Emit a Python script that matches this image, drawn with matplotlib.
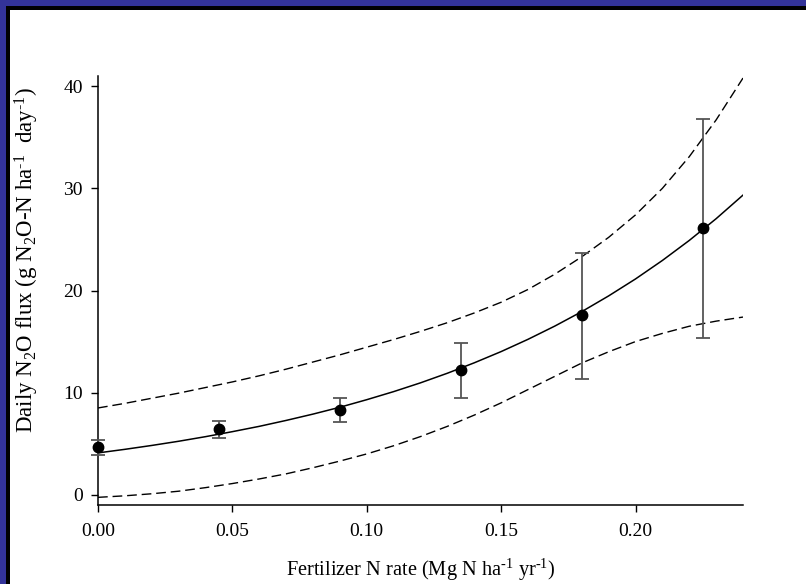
import matplotlib
matplotlib.use("Agg")

import numpy as np
import matplotlib.pyplot as plt
from matplotlib.patches import Rectangle

# -----------------------------
# DANE
# -----------------------------

n_rate = [0.0, 0.045, 0.09, 0.135, 0.18, 0.225]
flux = [4.68, 6.44, 8.33, 12.23, 17.6, 26.15]
err_low = [3.90, 5.53, 7.09, 9.43, 11.36, 15.36]
err_high = [5.34, 7.19, 9.46, 14.87, 23.7, 36.8]

# krzywa dopasowania i pasma ufności (odczytane co 0.01)
curve_x = [0.00, 0.01, 0.02, 0.03, 0.04, 0.05, 0.06, 0.07, 0.08, 0.09, 0.10, 0.11,
           0.12, 0.13, 0.14, 0.15, 0.16, 0.17, 0.18, 0.19, 0.20, 0.21, 0.22, 0.23, 0.24]
fit_y = [4.10, 4.45, 4.83, 5.24, 5.69, 6.18, 6.70, 7.28, 7.90, 8.57, 9.31, 10.10,
         10.96, 11.90, 12.92, 14.02, 15.22, 16.52, 17.93, 19.47, 21.13, 22.94, 24.90, 27.03, 29.34]
band_upper = [8.5, 8.95, 9.45, 9.95, 10.5, 11.05, 11.65, 12.3, 13.0, 13.7, 14.45, 15.2,
              16.0, 16.85, 17.8, 18.85, 20.1, 21.6, 23.3, 25.2, 27.4, 30.0, 33.1, 36.7, 40.8]
band_lower = [-0.25, -0.1, 0.1, 0.35, 0.7, 1.1, 1.55, 2.05, 2.65, 3.3, 4.0, 4.8,
              5.7, 6.7, 7.8, 9.0, 10.3, 11.6, 12.9, 14.0, 15.0, 15.8, 16.5, 17.0, 17.4]

x_ticks = [0.00, 0.05, 0.10, 0.15, 0.20]
y_ticks = [0, 10, 20, 30, 40]

# -----------------------------
# WYKRES
# -----------------------------

plt.rcParams["font.family"] = ["Liberation Serif", "DejaVu Serif"]
plt.rcParams["mathtext.fontset"] = "custom"
plt.rcParams["mathtext.rm"] = "Liberation Serif"
plt.rcParams["mathtext.it"] = "Liberation Serif:italic"
plt.rcParams["mathtext.default"] = "regular"

fig = plt.figure(figsize=(8.06, 5.84), dpi=100, facecolor="white")

# ramka
W, H = 806, 584
fig.patches.append(Rectangle((0, (H - 6) / H), 1, 6 / H, transform=fig.transFigure,
                             facecolor="#333399", edgecolor="none", zorder=-5))
fig.patches.append(Rectangle((0, 0), 6 / W, 1, transform=fig.transFigure,
                             facecolor="#333399", edgecolor="none", zorder=-5))
fig.patches.append(Rectangle((6 / W, (H - 10) / H), 1, 4 / H, transform=fig.transFigure,
                             facecolor="black", edgecolor="none", zorder=-5))
fig.patches.append(Rectangle((6 / W, 0), 4 / W, (H - 6) / H, transform=fig.transFigure,
                             facecolor="black", edgecolor="none", zorder=-5))

ax = fig.add_axes([98 / W, (H - 505) / H, (743 - 98) / W, (505 - 76) / H])
ax.set_facecolor("none")

ax.plot(curve_x, fit_y, color="black", lw=1.1, zorder=3)
ax.plot(curve_x, band_upper, color="black", lw=1.0, dashes=(7, 3.5), zorder=3)
ax.plot(curve_x, band_lower, color="black", lw=1.0, dashes=(7, 3.5), zorder=3)

yerr = [np.array(flux) - np.array(err_low), np.array(err_high) - np.array(flux)]
ax.errorbar(n_rate, flux, yerr=yerr, fmt="o", color="black", ms=7.5,
            ecolor="#555555", elinewidth=1.3, capsize=5, capthick=1.3, zorder=4,
            clip_on=False)

ax.set_xlim(0, 0.24)
ax.set_ylim(-1, 41)
ax.set_xticks(x_ticks)
ax.set_xticklabels(["%.2f" % v for v in x_ticks])
ax.set_yticks(y_ticks)

for s in ["top", "right"]:
    ax.spines[s].set_visible(False)
for s in ["left", "bottom"]:
    ax.spines[s].set_linewidth(1.1)

ax.tick_params(axis="both", direction="out", length=5, width=1.0, labelsize=14)
ax.tick_params(axis="y", pad=6)
ax.tick_params(axis="x", pad=8)

ax.set_xlabel(r"Fertilizer N rate (Mg N ha$^{\text{-1}}$ yr$^{\text{-1}}$)",
              fontsize=14.7)
ax.xaxis.set_label_coords(0.5, -(557 - 505) / 429)
ax.set_ylabel(r"Daily N$_2$O flux (g N$_2$O-N ha$^{\text{-1}}$  day$^{\text{-1}}$)",
              fontsize=16.5)
ax.yaxis.set_label_coords(-57 / 645, (505 - 260) / 429)

fig.savefig("out.png", dpi=100, facecolor="white")
